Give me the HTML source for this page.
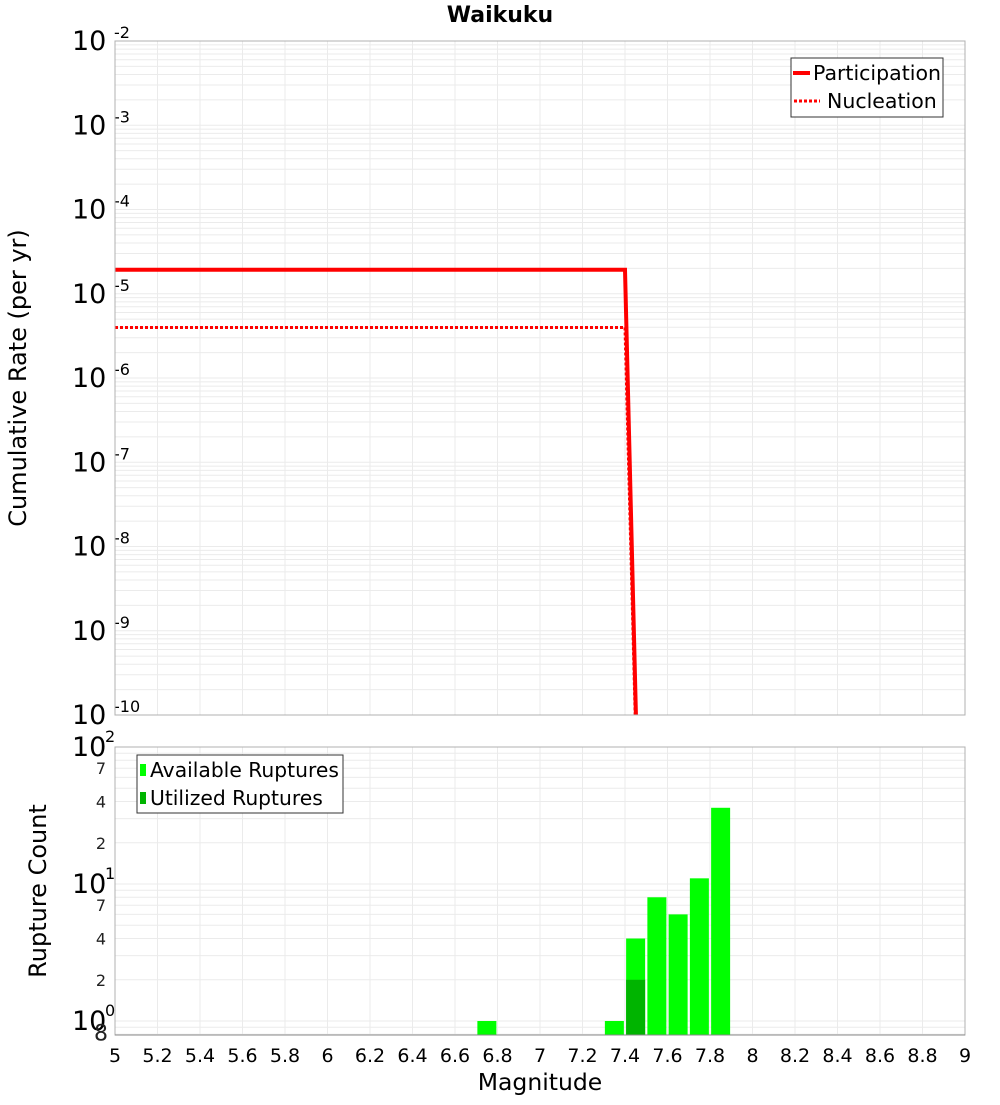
<!DOCTYPE html>
<html><head><meta charset="utf-8"><style>
body{margin:0;background:#fff;font-family:"Liberation Sans","DejaVu Sans",sans-serif}
svg text{font-family:"DejaVu Sans","Liberation Sans",sans-serif}
</style></head><body>
<svg id="c" width="1000" height="1100" viewBox="0 0 1000 1100" xmlns="http://www.w3.org/2000/svg">
<text x="500" y="22" text-anchor="middle" font-size="22" font-weight="bold">Waikuku</text>
<text transform="translate(26,378) rotate(-90)" text-anchor="middle" font-size="24">Cumulative Rate (per yr)</text>
<text transform="translate(46,891) rotate(-90)" text-anchor="middle" font-size="24">Rupture Count</text>
<text x="540" y="1090" text-anchor="middle" font-size="23.5">Magnitude</text>
<g id="g"></g>
</svg>
<script>
const partMags=[5.0,7.4,7.5];
const partRates=[1.93e-5,1.93e-5,1e-15];
const nuclMags=[5.0,7.4,7.5];
const nuclRates=[3.98e-6,3.98e-6,1e-15];
const barMags=[6.75,7.35,7.45,7.55,7.65,7.75,7.85];
const availCounts=[1,1,4,8,6,11,36];
const utilMags=[7.45];
const utilCounts=[2];
const xTicks=[5,5.2,5.4,5.6,5.8,6,6.2,6.4,6.6,6.8,7,7.2,7.4,7.6,7.8,8,8.2,8.4,8.6,8.8,9];
const topDecades=[-2,-3,-4,-5,-6,-7,-8,-9,-10];

const NS='http://www.w3.org/2000/svg';
const g=document.getElementById('g');
function mk(t,a,p){const e=document.createElementNS(NS,t);for(const k in a)e.setAttribute(k,a[k]);(p||g).appendChild(e);return e;}
const X0=115,X1=965;
const x=m=>X0+(m-5)/4*(X1-X0);
const T0=41,T1=715;
const yT=v=>T0+(-2-Math.log10(v))/8*(T1-T0);
const B0=747,B1=1035,BK=137;
const yB=v=>B0+(2-Math.log10(v))*BK;

const defs=mk('defs',{});
const cp1=mk('clipPath',{id:'ct'},defs);mk('rect',{x:X0,y:T0,width:X1-X0,height:T1-T0},cp1);
const cp2=mk('clipPath',{id:'cb'},defs);mk('rect',{x:X0,y:B0,width:X1-X0,height:B1-B0},cp2);

for(let d=-10;d<-2;d++){for(let k=1;k<10;k++){const v=k*Math.pow(10,d);const yy=yT(v);
 const l=mk('line',{x1:X0,x2:X1,y1:yy,y2:yy,stroke:'#ebebeb','stroke-width':1});
 }}
for(const t of xTicks){const l=mk('line',{x1:x(t),x2:x(t),y1:T0,y2:T1,stroke:'#ebebeb'});
 
 const l2=mk('line',{x1:x(t),x2:x(t),y1:B0,y2:B1,stroke:'#ebebeb'});
 }
for(let d=-1;d<2;d++){for(let k=1;k<10;k++){const v=k*Math.pow(10,d);const yy=yB(v);if(yy>B1||yy<B0)continue;
 const l=mk('line',{x1:X0,x2:X1,y1:yy,y2:yy,stroke:'#ebebeb'});
 }}

for(const d of topDecades){const yy=yT(Math.pow(10,d));
 const t=mk('text',{x:72,y:yy+9,'font-size':27});t.textContent='10';
 
 const s=mk('text',{x:114,y:yy-3,'font-size':16});s.textContent='-'+String(Math.abs(d));
 }

function path(ms,vs){return ms.map((m,i)=>(i?'L':'M')+x(m)+','+yT(vs[i])).join(' ');}
const pl=mk('path',{d:path(partMags,partRates),fill:'none',stroke:'#ff0000','stroke-width':4,'clip-path':'url(#ct)'});

const nl=mk('path',{d:path(nuclMags,nuclRates),fill:'none',stroke:'#ff0000','stroke-width':3,'stroke-dasharray':'3,2','clip-path':'url(#ct)'});


const bw=19;
barMags.forEach((m,i)=>{const r=mk('rect',{x:x(m)-bw/2,y:yB(availCounts[i]),width:bw,height:B1-yB(availCounts[i]),fill:'#00ff00','clip-path':'url(#cb)'});
 });
utilMags.forEach((m,i)=>{const r=mk('rect',{x:x(m)-bw/2,y:yB(utilCounts[i]),width:bw,height:B1-yB(utilCounts[i]),fill:'#00b400','clip-path':'url(#cb)'});
 });

const f1=mk('rect',{x:X0,y:T0,width:X1-X0,height:T1-T0,fill:'none',stroke:'#b0b0b0'});

const f2=mk('rect',{x:X0,y:B0,width:X1-X0,height:B1-B0,fill:'none',stroke:'#b0b0b0'});

mk('line',{x1:X0,x2:X1,y1:B1,y2:B1,stroke:'#888'});

[[100,'2'],[10,'1'],[1,'0']].forEach(([v,e])=>{const yy=yB(v);
 const t=mk('text',{x:72,y:yy+9,'font-size':27});t.textContent='10';
 
 const s=mk('text',{x:105,y:yy-5,'font-size':16});s.textContent=e;
 });
[[70,'7'],[40,'4'],[20,'2'],[7,'7'],[4,'4'],[2,'2'],[0.8,'8']].forEach(([v,l])=>{const yy=yB(v);
 const t=mk('text',{x:l==='8'&&v<1?108:106,y:yy+6,'font-size':l==='8'&&v<1?22:16,'text-anchor':'end',fill:'#222'});t.textContent=l;
 });

for(const t of xTicks){const e=mk('text',{x:x(t),y:1062,'font-size':19,'text-anchor':'middle'});e.textContent=String(t);
 }

const lg=mk('g',{});
mk('rect',{x:791,y:58,width:152,height:59,fill:'#fff',stroke:'#333'},lg);
mk('line',{x1:793,x2:810,y1:73,y2:73,stroke:'#f00','stroke-width':4},lg);
let t=mk('text',{x:813,y:80,'font-size':20.5},lg);t.textContent='Participation';

mk('line',{x1:794,x2:820,y1:101,y2:101,stroke:'#f00','stroke-width':3,'stroke-dasharray':'3,2'},lg);
t=mk('text',{x:827,y:108,'font-size':20.5},lg);t.textContent='Nucleation';


const lb=mk('g',{});
mk('rect',{x:137,y:755,width:206,height:58,fill:'#fff',stroke:'#333'},lb);
mk('rect',{x:140,y:764,width:6,height:12,fill:'#00ff00'},lb);
t=mk('text',{x:150,y:777,'font-size':20.3},lb);t.textContent='Available Ruptures';

mk('rect',{x:140,y:792,width:6,height:12,fill:'#00b400'},lb);
t=mk('text',{x:150,y:805,'font-size':20.3},lb);t.textContent='Utilized Ruptures';

</script>
</body></html>
